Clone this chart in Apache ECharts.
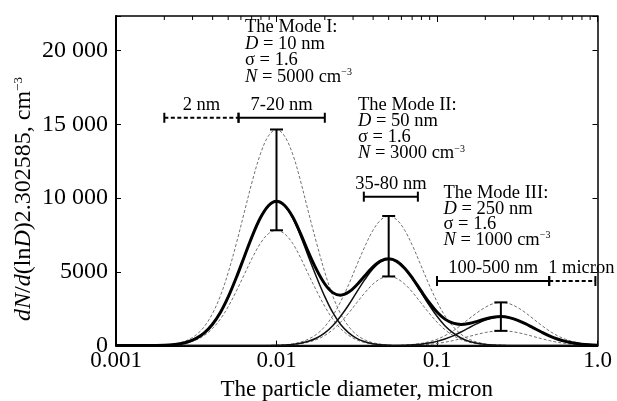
<!DOCTYPE html>
<html><head><meta charset="utf-8">
<script src="https://cdn.jsdelivr.net/npm/echarts@6/dist/echarts.min.js"></script>
<style>html,body{margin:0;padding:0;background:#fff}#c{width:617px;height:401px}</style>
</head><body><div id="c"></div>
<script>
// particle diameters (micron), log-spaced sample points read along the x axis
const diameters = [
  0.001,0.00112,0.00126,0.00141,0.00158,0.00178,0.002,0.00224,0.00251,0.00282,0.00316,0.00355,0.00398,0.00447,0.00501,0.00562,0.00631,0.00708,0.00794,0.00891,
  0.01,0.0112,0.0126,0.0141,0.0158,0.0178,0.02,0.0224,0.0251,0.0282,0.0316,0.0355,0.0398,0.0447,0.0501,0.0562,0.0631,0.0708,0.0794,0.0891,
  0.1,0.112,0.126,0.141,0.158,0.178,0.2,0.224,0.251,0.282,0.316,0.355,0.398,0.447,0.501,0.562,0.631,0.708,0.794,0.891,
  1.0];

// Mode I (D = 10 nm)
const modeI = [0,0,0,2,5,11,27,61,130,259,486,860,1432,2246,3318,4615,6045,7458,8665,9481,9770,9481,8665,7458,6045,4615,3318,2246,1432,860,486,259,130,61,27,11,5,2,
  0,0,0,0,0,0,0,0,0,0,0,0,0,0,0,0,0,0,0,0,0,0,0];
const modeIUpper = [0,0,0,3,7,17,41,92,195,389,730,1290,2148,3369,4977,6923,9068,11187,12998,14222,14655,14222,12998,11187,9068,6923,4977,3369,2148,1290,730,389,195,92,41,17,7,3,
  0,0,0,0,0,0,0,0,0,0,0,0,0,0,0,0,0,0,0,0,0,0,0];
const modeILower = [0,0,0,1,4,9,22,49,104,207,389,688,1146,1798,2656,3694,4839,5970,6936,7589,7820,7589,6936,5970,4839,3694,2656,1798,1146,688,389,207,104,49,22,9,4,1,
  0,0,0,0,0,0,0,0,0,0,0,0,0,0,0,0,0,0,0,0,0,0,0];

// Mode II (D = 50 nm)
const modeII = [0,0,0,0,0,0,0,0,0,0,0,0,0,0,0,0,0,0,
  3,7,16,37,78,155,292,516,859,1347,1990,2768,3626,4473,5197,5687,5860,5687,5197,4473,3626,2768,1990,1347,859,516,292,155,78,37,16,7,3,
  0,0,0,0,0,0,0,0,0,0];
const modeIIUpper = [0,0,0,0,0,0,0,0,0,0,0,0,0,0,0,0,0,0,
  4,10,25,55,117,233,438,774,1289,2021,2985,4152,5439,6710,7796,8530,8790,8530,7796,6710,5439,4152,2985,2021,1289,774,438,233,117,55,25,10,4,
  0,0,0,0,0,0,0,0,0,0];
const modeIILower = [0,0,0,0,0,0,0,0,0,0,0,0,0,0,0,0,0,0,
  2,5,13,29,62,124,234,413,688,1078,1593,2215,2902,3580,4160,4551,4690,4551,4160,3580,2902,2215,1593,1078,688,413,234,124,62,29,13,5,2,
  0,0,0,0,0,0,0,0,0,0];

// Mode III (D = 250 nm)
const modeIII = [0,0,0,0,0,0,0,0,0,0,0,0,0,0,0,0,0,0,0,0,0,0,0,0,0,0,0,0,0,0,0,0,0,
  2,5,12,26,52,97,172,286,448,662,921,1207,1489,1730,1892,1950,1892,1730,1489,1207,921,662,448,286,172,97,52,26];
const modeIIIUpper = [0,0,0,0,0,0,0,0,0,0,0,0,0,0,0,0,0,0,0,0,0,0,0,0,0,0,0,0,0,0,0,0,0,
  3,8,18,39,78,146,258,430,674,995,1384,1813,2237,2599,2843,2930,2843,2599,2237,1813,1384,995,674,430,258,146,78,39];
const modeIIILower = [0,0,0,0,0,0,0,0,0,0,0,0,0,0,0,0,0,0,0,0,0,0,0,0,0,0,0,0,0,0,0,0,0,
  1,3,6,13,27,50,88,147,230,340,472,619,763,887,970,1000,970,887,763,619,472,340,230,147,88,50,27,13];

// total distribution
const total = [0,0,0,2,5,11,27,61,130,259,486,860,1432,2246,3318,4615,6045,7458,8668,9488,
  9786,9518,8743,7613,6337,5131,4177,3593,3422,3628,4112,4732,5327,5750,5892,5710,5228,4527,3723,2940,
  2276,1795,1521,1437,1499,1644,1808,1929,1966,1899,1733,1489,1207,921,662,448,286,172,97,52,26];

// error bars at mode centres
const errX = [0.01, 0.05, 0.25];
const errLow = [7820, 4690, 1000];
const errHigh = [14655, 8790, 2930];

// size-range bars
const rangeLabels = ['2 nm', '7-20 nm', '35-80 nm', '100-500 nm', '1 micron'];
const rangeStart = [0.002, 0.0058, 0.035, 0.1, 0.5];
const rangeEnd = [0.0058, 0.02, 0.076, 0.5, 0.97];
const rangeLevel = [15450, 15450, 10100, 4380, 4380];
const rangeDashed = [true, false, false, false, true];

// axis ticks
const xTickValues = [0.001, 0.01, 0.1, 1];
const xTickLabels = ['0.001', '0.01', '0.1', '1.0'];
const xMinorTicks = [0.002,0.003,0.004,0.005,0.006,0.007,0.008,0.009,0.02,0.03,0.04,0.05,0.06,0.07,0.08,0.09,0.2,0.3,0.4,0.5,0.6,0.7,0.8,0.9];
const yTickValues = [0, 5000, 10000, 15000, 20000];
const yTickLabels = ['0', '5000', '10 000', '15 000', '20 000'];

const X_MIN = 0.001, X_MAX = 1, Y_MAX = 22350;
const FONT = '"Liberation Serif", "Times New Roman", serif';

function pairs(vals) { return diameters.map((d, i) => [d, vals[i]]); }

const dashedStyle = { color: '#707070', width: 1, type: [3, 2] };
function curve(name, vals, lineStyle, z) {
  return { name, type: 'line', data: pairs(vals), smooth: 0.35, showSymbol: false, symbol: 'none',
    lineStyle, z, silent: true, animation: false, xAxisIndex: 0, yAxisIndex: 0 };
}

const series = [
  curve('I+', modeIUpper, dashedStyle, 2),
  curve('I-', modeILower, dashedStyle, 2),
  curve('II+', modeIIUpper, dashedStyle, 2),
  curve('II-', modeIILower, dashedStyle, 2),
  curve('III+', modeIIIUpper, dashedStyle, 2),
  curve('III-', modeIIILower, dashedStyle, 2),
  curve('I', modeI, { color: '#111', width: 1.5 }, 3),
  curve('II', modeII, { color: '#111', width: 1.5 }, 3),
  curve('III', modeIII, { color: '#111', width: 1.5 }, 3),
  curve('Sum', total, { color: '#000', width: 3 }, 4),
  {
    type: 'custom', z: 6, clip: false, silent: true, animation: false,
    data: errX.map((x, i) => [x, errLow[i], errHigh[i]]),
    encode: { x: 0, y: [1, 2] },
    renderItem: function (params, api) {
      const lo = api.coord([api.value(0), api.value(1)]);
      const hi = api.coord([api.value(0), api.value(2)]);
      const st = { stroke: '#000', lineWidth: 2 };
      return { type: 'group', children: [
        { type: 'line', shape: { x1: lo[0], y1: lo[1], x2: hi[0], y2: hi[1] }, style: st },
        { type: 'line', shape: { x1: lo[0] - 6.5, y1: lo[1], x2: lo[0] + 6.5, y2: lo[1] }, style: st },
        { type: 'line', shape: { x1: hi[0] - 6.5, y1: hi[1], x2: hi[0] + 6.5, y2: hi[1] }, style: st }
      ]};
    }
  },
  {
    type: 'custom', z: 6, clip: false, silent: true, animation: false,
    data: rangeStart.map((s, i) => [s, rangeEnd[i], rangeLevel[i], i]),
    encode: { x: [0, 1], y: 2 },
    renderItem: function (params, api) {
      const i = api.value(3);
      const a = api.coord([api.value(0), api.value(2)]);
      const b = api.coord([api.value(1), api.value(2)]);
      const st = { stroke: '#000', lineWidth: 2, lineDash: rangeDashed[i] ? [4, 2.5] : null };
      const cap = { stroke: '#000', lineWidth: 2 };
      const mid = (a[0] + b[0]) / 2 + (i === 4 ? 9 : 0);
      return { type: 'group', children: [
        { type: 'line', shape: { x1: a[0], y1: a[1], x2: b[0], y2: b[1] }, style: st },
        { type: 'line', shape: { x1: a[0], y1: a[1] - 5, x2: a[0], y2: a[1] + 5 }, style: cap },
        { type: 'line', shape: { x1: b[0], y1: b[1] - 5, x2: b[0], y2: b[1] + 5 }, style: cap },
        { type: 'text', x: mid, y: a[1] - 12.5, style: { text: rangeLabels[i], fill: '#000',
          font: '18.5px ' + FONT, align: 'center', verticalAlign: 'middle' } }
      ]};
    }
  },
  {
    type: 'custom', z: 6, clip: false, silent: true, animation: false,
    data: xMinorTicks.map(v => [v, Y_MAX]),
    encode: { x: 0, y: 1 },
    renderItem: function (params, api) {
      const p = api.coord([api.value(0), api.value(1)]);
      return { type: 'line', shape: { x1: p[0], y1: p[1], x2: p[0], y2: p[1] + 4 }, style: { stroke: '#000', lineWidth: 1 } };
    }
  }
];

const rich = {
  i: { fontStyle: 'italic', fontFamily: FONT, fontSize: 18.5, color: '#000' },
  n: { fontFamily: FONT, fontSize: 18.5, color: '#000' },
  sup: { fontFamily: FONT, fontSize: 10, color: '#000', verticalAlign: 'top', lineHeight: 18 }
};
function annot(x, y, text) {
  return { type: 'text', x, y, z: 20, silent: true,
    style: { text, rich, font: '18.5px ' + FONT, fill: '#000', align: 'left', verticalAlign: 'middle' } };
}
const annotations = [
  ['The Mode I:', '{i|D}{n| = 10 nm}', 'σ = 1.6', '{i|N}{n| = 5000 cm}{sup|−3}', 245, 27.5, 16.5],
  ['The Mode II:', '{i|D}{n| = 50 nm}', 'σ = 1.6', '{i|N}{n| = 3000 cm}{sup|−3}', 358, 105.5, 16],
  ['The Mode III:', '{i|D}{n| = 250 nm}', 'σ = 1.6', '{i|N}{n| = 1000 cm}{sup|−3}', 443.5, 193.5, 15.5]
];
const graphics = [];
annotations.forEach(a => {
  for (let k = 0; k < 4; k++) graphics.push(annot(a[4], a[5] + k * a[6], a[k]));
});
// y-axis title
graphics.push({ type: 'text', x: 24, y: 199, rotation: Math.PI / 2, z: 20, silent: true,
  style: { text: '{i|dN}{n|/}{i|d}{n|(ln}{i|D}{n|)2.302585, cm}{s|−3}', font: '24px ' + FONT, fill: '#000',
    align: 'center', verticalAlign: 'middle',
    rich: { i: { fontStyle: 'italic', fontFamily: FONT, fontSize: 24, color: '#000' },
            n: { fontFamily: FONT, fontSize: 24, color: '#000' },
            s: { fontFamily: FONT, fontSize: 13, color: '#000', verticalAlign: 'top', lineHeight: 24 } } } });

const chart = echarts.init(document.getElementById('c'), null, { renderer: 'canvas' });
chart.setOption({
  animation: false,
  backgroundColor: '#fff',
  grid: { left: 116, right: 19.5, top: 16, bottom: 55.4, containLabel: false, outerBoundsMode: 'none' },
  xAxis: [
    { type: 'log', logBase: 10, min: X_MIN, max: X_MAX, position: 'bottom',
      axisLine: { show: true, onZero: false, lineStyle: { color: '#000', width: 2 } },
      axisTick: { show: true, inside: true, length: 5, lineStyle: { color: '#000', width: 1 } },
      splitLine: { show: false }, minorTick: { show: false },
      axisLabel: { color: '#000', fontFamily: FONT, fontSize: 23, margin: 4,
        formatter: function (v) {
          let best = 0;
          xTickValues.forEach((t, i) => { if (Math.abs(Math.log10(t) - Math.log10(v)) < Math.abs(Math.log10(xTickValues[best]) - Math.log10(v))) best = i; });
          return xTickLabels[best];
        } },
      name: 'The particle diameter, micron', nameLocation: 'middle', nameGap: 33,
      nameTextStyle: { color: '#000', fontFamily: FONT, fontSize: 23 } },
    { type: 'log', logBase: 10, min: X_MIN, max: X_MAX, position: 'top',
      axisLine: { show: true, onZero: false, lineStyle: { color: '#000', width: 1.5 } },
      axisTick: { show: true, inside: true, length: 6, lineStyle: { color: '#000', width: 1 } },
      axisLabel: { show: false }, splitLine: { show: false } }
  ],
  yAxis: [
    { type: 'value', min: 0, max: Y_MAX, interval: 5000, position: 'left',
      axisLine: { show: true, onZero: false, lineStyle: { color: '#000', width: 2 } },
      axisTick: { show: true, inside: true, length: 5, lineStyle: { color: '#000', width: 1 } },
      splitLine: { show: false },
      axisLabel: { color: '#000', fontFamily: FONT, fontSize: 24, margin: 8,
        formatter: function (v) { const i = yTickValues.indexOf(v); return i < 0 ? '' : yTickLabels[i]; } } },
    { type: 'value', min: 0, max: Y_MAX, interval: 5000, position: 'right',
      axisLine: { show: true, onZero: false, lineStyle: { color: '#000', width: 1.5 } },
      axisTick: { show: true, inside: true, length: 5, lineStyle: { color: '#000', width: 1 } },
      axisLabel: { show: false }, splitLine: { show: false } }
  ],
  graphic: graphics,
  series
});
</script>
</body></html>
